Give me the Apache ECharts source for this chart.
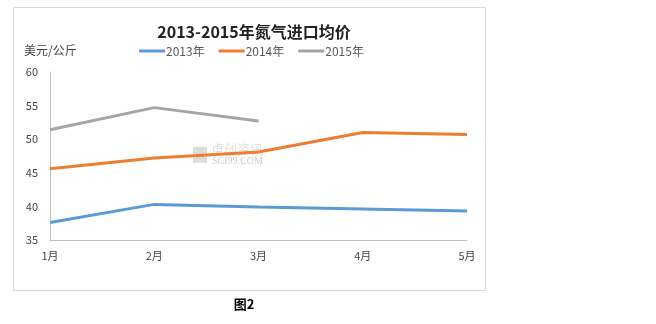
<!DOCTYPE html>
<html>
<head>
<meta charset="utf-8">
<script src="https://cdn.jsdelivr.net/npm/echarts@6/dist/echarts.min.js"></script>
<style>
  html, body { margin: 0; padding: 0; background: #fff; }
  #chart { width: 656px; height: 324px; }
</style>
</head>
<body>
<div id="chart"></div>
<script>
// Monthly categories and average import prices (USD/kg)
const months = ['1月', '2月', '3月', '4月', '5月'];
const seriesNames = ['2013年', '2014年', '2015年'];
const price2013 = [37.6, 40.3, 39.9, 39.6, 39.3];
const price2014 = [45.6, 47.2, 48.1, 51.0, 50.7];
const price2015 = [51.4, 54.7, 52.7, null, null];
const colors = ['#5B9BD5', '#ED7D31', '#A5A5A5'];

const chart = echarts.init(document.getElementById('chart'));
const font = '"Microsoft YaHei", "Noto Sans CJK SC", sans-serif';

function lineSeries(name, data, color) {
  return {
    name: name,
    type: 'line',
    data: data,
    symbol: 'none',
    connectNulls: false,
    lineStyle: { color: color, width: 3 },
    itemStyle: { color: color },
    z: 3
  };
}

chart.setOption({
  animation: false,
  backgroundColor: '#fff',
  textStyle: { fontFamily: font },
  title: [{
    text: '2013-2015年氮气进口均价',
    left: 249, top: 19, textAlign: 'center',
    textStyle: { fontSize: 16, fontWeight: 'bold', color: '#222', fontFamily: font }
  }],
  legend: {
    data: seriesNames,
    left: 134, top: 40,
    itemWidth: 26, itemHeight: 3, itemGap: 14,
    icon: 'rect',
    textStyle: { fontSize: 12, color: '#595959', padding: [0, 0, 0, -4] }
  },
  grid: { left: 50, right: 189, top: 72, bottom: 84 },
  xAxis: {
    type: 'category',
    data: months,
    boundaryGap: false,
    axisLine: { lineStyle: { color: '#BFBFBF', width: 1 } },
    axisTick: { show: false },
    axisLabel: { color: '#444', fontSize: 11, margin: 10 },
    splitLine: { show: false }
  },
  yAxis: {
    type: 'value',
    min: 35, max: 60, interval: 5,
    name: '美元/公斤',
    nameLocation: 'end',
    nameGap: 16,
    nameTextStyle: { color: '#444', fontSize: 12, align: 'left', padding: [0, 0, 0, -26] },
    axisLine: { show: true, lineStyle: { color: '#BFBFBF', width: 1 } },
    axisTick: { show: false },
    axisLabel: { color: '#444', fontSize: 11, margin: 12 },
    splitLine: { show: false }
  },
  graphic: [
    {
      type: 'rect',
      shape: { x: 13.5, y: 7.5, width: 472, height: 283 },
      style: { fill: 'none', stroke: '#D9D9D9', lineWidth: 1 },
      z: 0
    },
    {
      type: 'rect',
      shape: { x: 193, y: 147, width: 14, height: 16 },
      style: { fill: '#BBBBBB', opacity: 0.5 },
      z: 1
    },
    {
      type: 'text',
      style: { x: 211, y: 143, text: '卓创资讯', fill: '#BBBBBB', opacity: 0.5,
        font: '13px "Noto Sans CJK SC", sans-serif', textVerticalAlign: 'top' },
      z: 1
    },
    {
      type: 'text',
      style: { x: 212, y: 156, text: 'SCI99.COM', fill: '#AAAAAA', opacity: 0.6,
        font: '10px "Liberation Serif", serif', textVerticalAlign: 'top' },
      z: 1
    },
    {
      type: 'text',
      style: { x: 244, y: 298, text: '图2', fill: '#000',
        font: 'bold 13px "Noto Sans CJK SC", sans-serif', textAlign: 'center' },
      z: 1
    }
  ],
  series: [
    lineSeries(seriesNames[0], price2013, colors[0]),
    lineSeries(seriesNames[1], price2014, colors[1]),
    lineSeries(seriesNames[2], price2015, colors[2])
  ]
});
</script>
</body>
</html>
